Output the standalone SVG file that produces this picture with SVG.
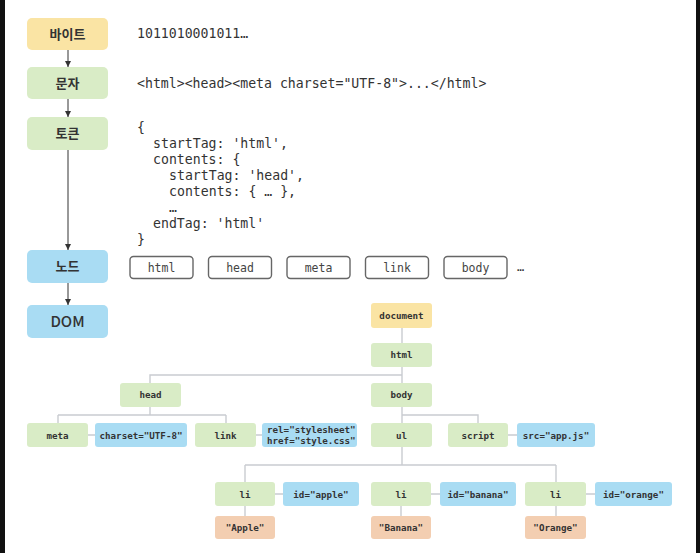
<svg xmlns="http://www.w3.org/2000/svg" width="700" height="553" viewBox="0 0 700 553">
<defs>
<marker id="ah" viewBox="0 0 10 10" refX="10" refY="5" markerWidth="6" markerHeight="6" markerUnits="userSpaceOnUse" orient="auto">
<path d="M0,0 L10,5 L0,10 z" fill="#333"/>
</marker>
<style>
.bg{fill:#ffffff}
.yel{fill:#fae4a4}
.grn{fill:#d9ecc6}
.blu{fill:#a9dcf3}
.org{fill:#f3ceb1}
.lbl{font-family:"Noto Sans CJK KR","Noto Sans",sans-serif;font-size:13px;font-weight:700;fill:#333;text-anchor:middle}
.code{font-family:"DejaVu Sans Mono","Liberation Mono",monospace;font-size:13.2px;fill:#333}
.tok{fill:#fff;stroke:#666;stroke-width:1.4}
.tokt{font-family:"DejaVu Sans Mono","Liberation Mono",monospace;font-size:11.5px;fill:#444;text-anchor:middle}
.nt{font-family:"DejaVu Sans Mono","Liberation Mono",monospace;font-size:9.2px;font-weight:700;fill:#333;text-anchor:middle}
.arr{stroke:#333;stroke-width:1;fill:none;marker-end:url(#ah)}
.tl{stroke:#c9ccd1;stroke-width:1.4;fill:none}
</style>
</defs>
<rect x="0" y="0" width="700" height="553" fill="#111"/>
<rect class="bg" x="5" y="0" width="691" height="553"/>

<g id="connectors">
<line class="arr" x1="68" y1="50" x2="68" y2="67"/>
<line class="arr" x1="68" y1="99" x2="68" y2="117"/>
<line class="arr" x1="68" y1="150" x2="68" y2="250"/>
<line class="arr" x1="68" y1="283" x2="68" y2="305"/>
<path class="tl" d="M402,328 V343 M402,367 V383 M402,375 H150 V383"/>
<path class="tl" d="M150,407 V415 M58,415 H226 M58,415 V423 M226,415 V423 M88,435 H95 M256,435 H262"/>
<path class="tl" d="M402,407 V423 M402,415 H478 V423 M508,435 H517"/>
<path class="tl" d="M402,447 V465 M245,465 H556 M245,465 V482 M556,465 V482"/>
<path class="tl" d="M275,494 H283 M431,494 H440 M586,494 H595 M245,506 V516 M401,506 V516 M556,506 V516"/>
</g>

<g id="n-byte"><rect class="yel" x="27" y="18" width="81" height="32" rx="5"/><text class="lbl" x="67.5" y="38.5">바이트</text></g>
<g id="n-char"><rect class="grn" x="27" y="67" width="81" height="32" rx="5"/><text class="lbl" x="67.5" y="87.5">문자</text></g>
<g id="n-token"><rect class="grn" x="27" y="117" width="81" height="33" rx="5"/><text class="lbl" x="67.5" y="138">토큰</text></g>
<g id="n-node"><rect class="blu" x="27" y="250" width="81" height="33" rx="5"/><text class="lbl" x="67.5" y="271">노드</text></g>
<g id="n-dom"><rect class="blu" x="27" y="305" width="81" height="33" rx="5"/><text class="lbl" x="67.5" y="327" style="font-size:15px;font-weight:500">DOM</text></g>

<g id="t-bytes"><text class="code" x="137" y="38">1011010001011…</text></g>
<g id="t-chars"><text class="code" x="137" y="88">&lt;html&gt;&lt;head&gt;&lt;meta charset="UTF-8"&gt;...&lt;/html&gt;</text></g>
<g id="t-tokens" class="code">
<text class="code" x="137" y="131.5">{</text>
<text class="code" x="153" y="147.5">startTag: 'html',</text>
<text class="code" x="153" y="163.5">contents: {</text>
<text class="code" x="169" y="179.5">startTag: 'head',</text>
<text class="code" x="169" y="195.5">contents: { … },</text>
<text class="code" x="169" y="211.5">…</text>
<text class="code" x="153" y="227.5">endTag: 'html'</text>
<text class="code" x="137" y="243.5">}</text>
</g>

<g id="tok-html"><rect class="tok" x="130" y="256.5" width="63" height="22" rx="3.5"/><text class="tokt" x="161.5" y="271.5">html</text></g>
<g id="tok-head"><rect class="tok" x="208.5" y="256.5" width="63" height="22" rx="3.5"/><text class="tokt" x="240" y="271.5">head</text></g>
<g id="tok-meta"><rect class="tok" x="287" y="256.5" width="63" height="22" rx="3.5"/><text class="tokt" x="318.5" y="271.5">meta</text></g>
<g id="tok-link"><rect class="tok" x="365.5" y="256.5" width="63" height="22" rx="3.5"/><text class="tokt" x="397" y="271.5">link</text></g>
<g id="tok-body"><rect class="tok" x="444" y="256.5" width="63" height="22" rx="3.5"/><text class="tokt" x="475.5" y="271.5">body</text></g>
<g id="tok-more"><text class="code" x="517" y="271" style="font-size:12px">…</text></g>

<g id="d-document"><rect class="yel" x="371" y="303" width="61" height="25" rx="3"/><text class="nt" x="401.5" y="318.5">document</text></g>
<g id="d-html"><rect class="grn" x="371" y="343" width="61" height="24" rx="3"/><text class="nt" x="401.5" y="358">html</text></g>
<g id="d-head"><rect class="grn" x="120" y="383" width="61" height="24" rx="3"/><text class="nt" x="150.5" y="398">head</text></g>
<g id="d-body"><rect class="grn" x="371" y="383" width="61" height="24" rx="3"/><text class="nt" x="401.5" y="398">body</text></g>
<g id="d-meta"><rect class="grn" x="27" y="423" width="61" height="24" rx="3"/><text class="nt" x="57.5" y="438.5">meta</text></g>
<g id="d-charset"><rect class="blu" x="95" y="423" width="92" height="24" rx="3"/><text class="nt" x="141" y="438.5">charset="UTF-8"</text></g>
<g id="d-link"><rect class="grn" x="195" y="423" width="61" height="24" rx="3"/><text class="nt" x="225.5" y="438.5">link</text></g>
<g id="d-rel"><rect class="blu" x="262" y="423" width="95" height="24" rx="3"/><text class="nt" x="267" y="432.5" style="text-anchor:start">rel="stylesheet"</text><text class="nt" x="267" y="444" style="text-anchor:start">href="style.css"</text></g>
<g id="d-ul"><rect class="grn" x="371" y="423" width="61" height="24" rx="3"/><text class="nt" x="401.5" y="438.5">ul</text></g>
<g id="d-script"><rect class="grn" x="448" y="423" width="60" height="24" rx="3"/><text class="nt" x="478" y="438.5">script</text></g>
<g id="d-src"><rect class="blu" x="517" y="423" width="78" height="24" rx="3"/><text class="nt" x="556" y="438.5">src="app.js"</text></g>
<g id="d-li1"><rect class="grn" x="215" y="482" width="60" height="24" rx="3"/><text class="nt" x="245" y="497.5">li</text></g>
<g id="d-id1"><rect class="blu" x="283" y="482" width="76" height="24" rx="3"/><text class="nt" x="321" y="497.5">id="apple"</text></g>
<g id="d-li2"><rect class="grn" x="371" y="482" width="60" height="24" rx="3"/><text class="nt" x="401" y="497.5">li</text></g>
<g id="d-id2"><rect class="blu" x="440" y="482" width="76" height="24" rx="3"/><text class="nt" x="478" y="497.5">id="banana"</text></g>
<g id="d-li3"><rect class="grn" x="525" y="482" width="61" height="24" rx="3"/><text class="nt" x="555.5" y="497.5">li</text></g>
<g id="d-id3"><rect class="blu" x="595" y="482" width="77" height="24" rx="3"/><text class="nt" x="633.5" y="497.5">id="orange"</text></g>
<g id="d-apple"><rect class="org" x="215" y="516" width="60" height="23" rx="3"/><text class="nt" x="245" y="531">"Apple"</text></g>
<g id="d-banana"><rect class="org" x="371" y="516" width="60" height="23" rx="3"/><text class="nt" x="401" y="531">"Banana"</text></g>
<g id="d-orange"><rect class="org" x="525" y="516" width="61" height="23" rx="3"/><text class="nt" x="555.5" y="531">"Orange"</text></g>
</svg>
